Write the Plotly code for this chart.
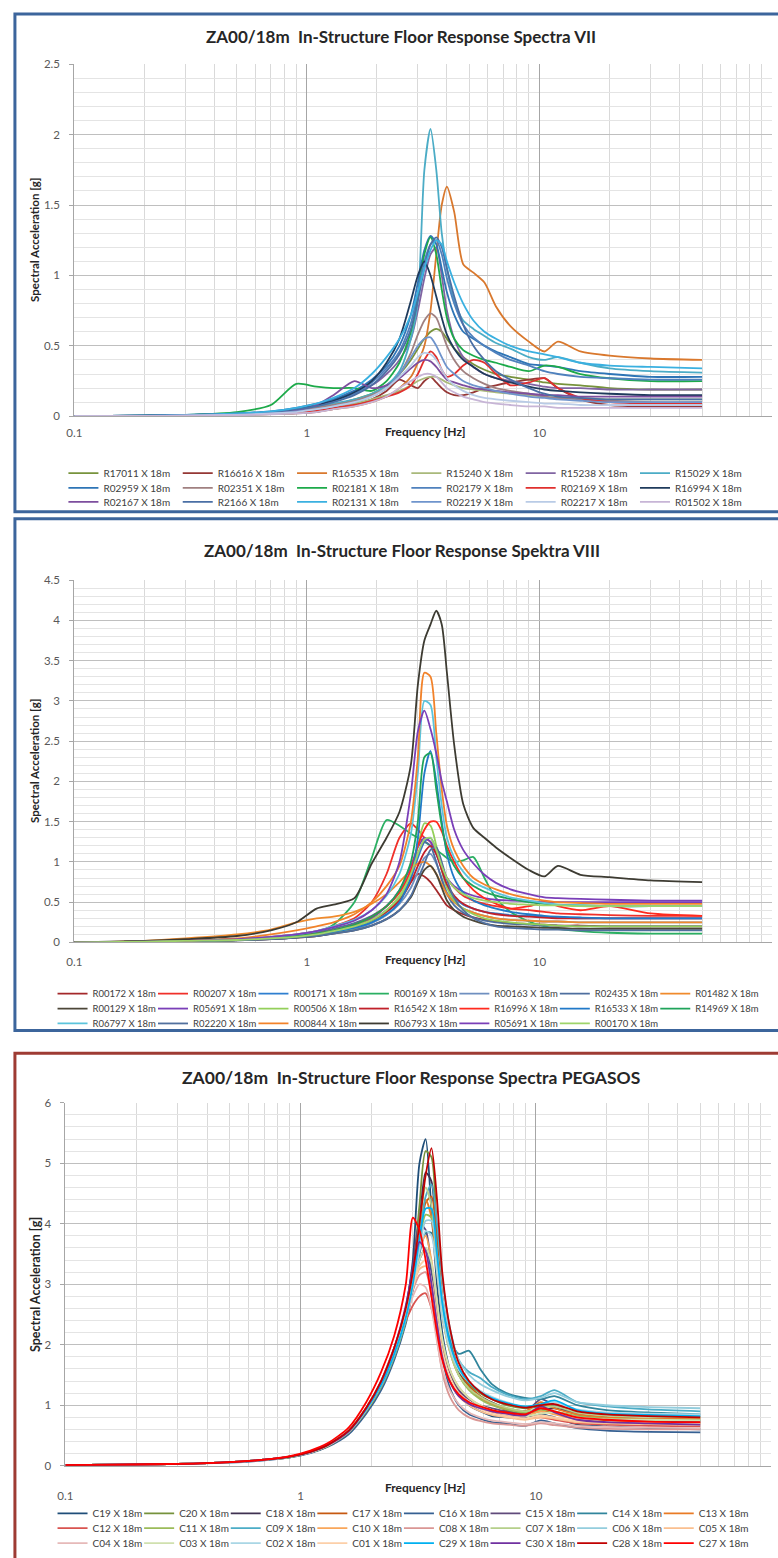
import plotly.graph_objects as go

W, H = 778, 1558

# ---------------- data ----------------
freq = [0.1, 0.2, 0.3, 0.5, 0.7, 0.9, 1.1, 1.3, 1.6, 1.9, 2.2, 2.5, 2.8, 3.0, 3.2, 3.4,
        3.6, 3.8, 4.0, 4.3, 4.7, 5.2, 5.8, 6.5, 7.5, 9.0, 10.5, 12, 15, 20, 30, 50]

# Panel 1 : Spectra VII
p1_R17011 = [0.00, 0.003, 0.007, 0.015, 0.025, 0.04, 0.06, 0.08, 0.12, 0.16, 0.22, 0.30, 0.40, 0.48, 0.55, 0.60, 0.62, 0.60, 0.55, 0.48, 0.42, 0.37, 0.33, 0.30, 0.28, 0.26, 0.24, 0.23, 0.22, 0.20, 0.19, 0.19]
p1_R16616 = [0.00, 0.003, 0.006, 0.010, 0.015, 0.02, 0.03, 0.05, 0.08, 0.12, 0.18, 0.26, 0.22, 0.20, 0.25, 0.28, 0.24, 0.20, 0.17, 0.15, 0.15, 0.17, 0.20, 0.22, 0.24, 0.26, 0.27, 0.20, 0.12, 0.08, 0.07, 0.07]
p1_R16535 = [0.00, 0.003, 0.007, 0.012, 0.02, 0.03, 0.04, 0.05, 0.07, 0.10, 0.14, 0.20, 0.28, 0.38, 0.50, 0.75, 1.15, 1.50, 1.63, 1.45, 1.08, 1.02, 0.95, 0.78, 0.64, 0.53, 0.46, 0.53, 0.46, 0.43, 0.41, 0.40]
p1_R15240 = [0.00, 0.002, 0.005, 0.010, 0.015, 0.025, 0.04, 0.06, 0.09, 0.12, 0.15, 0.18, 0.22, 0.25, 0.27, 0.28, 0.28, 0.26, 0.24, 0.22, 0.20, 0.19, 0.18, 0.17, 0.16, 0.15, 0.14, 0.13, 0.13, 0.12, 0.12, 0.12]
p1_R15238 = [0.00, 0.004, 0.008, 0.02, 0.03, 0.05, 0.08, 0.12, 0.18, 0.22, 0.30, 0.40, 0.55, 0.75, 0.98, 1.15, 1.20, 1.00, 0.75, 0.55, 0.42, 0.35, 0.30, 0.27, 0.25, 0.23, 0.21, 0.20, 0.20, 0.19, 0.19, 0.19]
p1_R15029 = [0.00, 0.005, 0.010, 0.02, 0.03, 0.05, 0.07, 0.09, 0.12, 0.16, 0.22, 0.32, 0.55, 0.82, 1.75, 2.04, 1.75, 1.30, 1.05, 0.82, 0.68, 0.62, 0.57, 0.52, 0.48, 0.42, 0.40, 0.42, 0.38, 0.34, 0.32, 0.31]
p1_R02959 = [0.00, 0.005, 0.010, 0.02, 0.035, 0.06, 0.09, 0.12, 0.18, 0.26, 0.36, 0.50, 0.72, 0.95, 1.18, 1.28, 1.22, 1.05, 0.88, 0.72, 0.60, 0.55, 0.50, 0.46, 0.42, 0.37, 0.36, 0.35, 0.32, 0.30, 0.28, 0.28]
p1_R02351 = [0.00, 0.003, 0.007, 0.015, 0.025, 0.04, 0.06, 0.08, 0.11, 0.15, 0.20, 0.30, 0.45, 0.58, 0.68, 0.73, 0.70, 0.60, 0.50, 0.40, 0.32, 0.27, 0.23, 0.20, 0.18, 0.16, 0.14, 0.13, 0.12, 0.11, 0.10, 0.10]
p1_R02181 = [0.00, 0.005, 0.010, 0.03, 0.08, 0.23, 0.21, 0.20, 0.20, 0.18, 0.25, 0.38, 0.60, 0.85, 1.15, 1.27, 1.15, 0.90, 0.70, 0.55, 0.47, 0.43, 0.40, 0.38, 0.35, 0.32, 0.36, 0.35, 0.30, 0.27, 0.25, 0.25]
p1_R02179 = [0.00, 0.004, 0.008, 0.018, 0.03, 0.05, 0.08, 0.11, 0.16, 0.24, 0.34, 0.46, 0.66, 0.88, 1.10, 1.22, 1.25, 1.15, 0.98, 0.80, 0.65, 0.56, 0.50, 0.45, 0.40, 0.36, 0.32, 0.30, 0.28, 0.27, 0.26, 0.26]
p1_R02169 = [0.00, 0.003, 0.006, 0.012, 0.02, 0.03, 0.04, 0.06, 0.08, 0.11, 0.14, 0.17, 0.22, 0.30, 0.40, 0.46, 0.42, 0.33, 0.28, 0.30, 0.36, 0.40, 0.38, 0.30, 0.22, 0.24, 0.27, 0.20, 0.13, 0.10, 0.09, 0.09]
p1_R16994 = [0.00, 0.004, 0.008, 0.017, 0.03, 0.05, 0.08, 0.11, 0.17, 0.25, 0.38, 0.55, 0.82, 1.00, 1.10, 1.00, 0.85, 0.70, 0.58, 0.48, 0.40, 0.35, 0.30, 0.27, 0.24, 0.21, 0.19, 0.18, 0.17, 0.16, 0.15, 0.15]
p1_R02167 = [0.00, 0.003, 0.006, 0.012, 0.02, 0.04, 0.08, 0.15, 0.25, 0.20, 0.22, 0.27, 0.34, 0.38, 0.40, 0.39, 0.35, 0.30, 0.26, 0.24, 0.22, 0.20, 0.19, 0.18, 0.17, 0.16, 0.15, 0.15, 0.14, 0.14, 0.14, 0.14]
p1_R2166 = [0.00, 0.004, 0.008, 0.018, 0.03, 0.05, 0.07, 0.10, 0.15, 0.22, 0.32, 0.44, 0.62, 0.82, 1.05, 1.22, 1.27, 1.20, 1.05, 0.85, 0.65, 0.50, 0.40, 0.32, 0.26, 0.20, 0.16, 0.14, 0.13, 0.12, 0.12, 0.12]
p1_R02131 = [0.00, 0.004, 0.008, 0.02, 0.035, 0.06, 0.09, 0.13, 0.20, 0.30, 0.42, 0.55, 0.72, 0.88, 1.05, 1.18, 1.25, 1.22, 1.10, 0.95, 0.80, 0.68, 0.60, 0.55, 0.50, 0.46, 0.44, 0.42, 0.38, 0.36, 0.35, 0.34]
p1_R02219 = [0.00, 0.003, 0.006, 0.012, 0.02, 0.035, 0.05, 0.07, 0.10, 0.14, 0.20, 0.30, 0.42, 0.50, 0.55, 0.56, 0.50, 0.42, 0.35, 0.30, 0.25, 0.22, 0.20, 0.18, 0.16, 0.14, 0.13, 0.12, 0.11, 0.10, 0.10, 0.10]
p1_R02217 = [0.00, 0.002, 0.005, 0.010, 0.02, 0.03, 0.05, 0.07, 0.10, 0.14, 0.20, 0.28, 0.36, 0.42, 0.45, 0.44, 0.40, 0.33, 0.27, 0.22, 0.18, 0.15, 0.13, 0.12, 0.11, 0.10, 0.09, 0.09, 0.08, 0.08, 0.08, 0.08]
p1_R01502 = [0.00, 0.002, 0.004, 0.008, 0.013, 0.02, 0.03, 0.05, 0.07, 0.10, 0.14, 0.20, 0.25, 0.28, 0.30, 0.30, 0.28, 0.24, 0.20, 0.17, 0.14, 0.12, 0.10, 0.09, 0.08, 0.07, 0.07, 0.06, 0.06, 0.06, 0.06, 0.06]

# Panel 2 : Spektra VIII
p2_R00172 = [0.00, 0.01, 0.015, 0.03, 0.04, 0.06, 0.08, 0.12, 0.18, 0.26, 0.38, 0.55, 0.75, 0.85, 0.82, 0.75, 0.65, 0.55, 0.46, 0.40, 0.35, 0.31, 0.28, 0.26, 0.24, 0.23, 0.22, 0.21, 0.21, 0.20, 0.20, 0.20]
p2_R00207 = [0.00, 0.01, 0.02, 0.04, 0.07, 0.10, 0.14, 0.20, 0.30, 0.50, 0.85, 1.30, 1.48, 1.40, 1.30, 1.25, 1.10, 0.95, 0.80, 0.68, 0.58, 0.52, 0.48, 0.45, 0.42, 0.40, 0.38, 0.36, 0.35, 0.34, 0.33, 0.33]
p2_R00171 = [0.00, 0.01, 0.02, 0.03, 0.05, 0.07, 0.10, 0.14, 0.20, 0.28, 0.40, 0.55, 0.80, 1.05, 1.25, 1.30, 1.15, 0.90, 0.70, 0.56, 0.47, 0.42, 0.38, 0.36, 0.34, 0.33, 0.32, 0.31, 0.30, 0.30, 0.30, 0.30]
p2_R00169 = [0.00, 0.01, 0.02, 0.04, 0.06, 0.09, 0.13, 0.22, 0.50, 1.05, 1.52, 1.45, 1.35, 1.30, 1.25, 1.20, 1.15, 1.10, 1.05, 1.00, 1.02, 1.06, 0.80, 0.55, 0.38, 0.26, 0.20, 0.17, 0.14, 0.12, 0.11, 0.11]
p2_R00163 = [0.00, 0.01, 0.015, 0.03, 0.04, 0.06, 0.09, 0.12, 0.17, 0.24, 0.34, 0.48, 0.68, 0.88, 1.05, 1.10, 0.98, 0.80, 0.62, 0.50, 0.42, 0.37, 0.33, 0.30, 0.28, 0.27, 0.26, 0.26, 0.25, 0.25, 0.25, 0.25]
p2_R02435 = [0.00, 0.01, 0.02, 0.04, 0.06, 0.09, 0.12, 0.17, 0.24, 0.33, 0.45, 0.62, 0.88, 1.10, 1.25, 1.20, 1.00, 0.78, 0.60, 0.46, 0.37, 0.31, 0.27, 0.25, 0.23, 0.22, 0.21, 0.21, 0.20, 0.20, 0.20, 0.20]
p2_R01482 = [0.00, 0.02, 0.05, 0.10, 0.16, 0.25, 0.30, 0.32, 0.38, 0.48, 0.60, 0.75, 0.90, 0.98, 1.00, 0.95, 0.85, 0.72, 0.60, 0.50, 0.42, 0.37, 0.33, 0.30, 0.28, 0.27, 0.26, 0.26, 0.25, 0.25, 0.25, 0.25]
p2_R00129 = [0.00, 0.01, 0.015, 0.025, 0.04, 0.06, 0.08, 0.11, 0.15, 0.21, 0.29, 0.40, 0.56, 0.75, 0.90, 0.95, 0.85, 0.68, 0.52, 0.40, 0.32, 0.27, 0.23, 0.21, 0.20, 0.19, 0.18, 0.18, 0.17, 0.17, 0.17, 0.17]
p2_R05691a = [0.00, 0.01, 0.02, 0.03, 0.05, 0.07, 0.10, 0.14, 0.20, 0.30, 0.45, 0.65, 0.95, 1.18, 1.30, 1.25, 1.10, 0.92, 0.80, 0.70, 0.63, 0.58, 0.55, 0.53, 0.52, 0.51, 0.50, 0.50, 0.50, 0.50, 0.50, 0.50]
p2_R00506 = [0.00, 0.01, 0.02, 0.03, 0.05, 0.07, 0.10, 0.13, 0.18, 0.26, 0.38, 0.55, 0.85, 1.20, 1.48, 1.45, 1.20, 0.90, 0.68, 0.52, 0.42, 0.35, 0.30, 0.27, 0.25, 0.23, 0.22, 0.21, 0.20, 0.20, 0.20, 0.20]
p2_R16542 = [0.00, 0.01, 0.015, 0.03, 0.05, 0.07, 0.10, 0.14, 0.20, 0.28, 0.38, 0.52, 0.75, 0.95, 1.12, 1.20, 1.10, 0.90, 0.72, 0.58, 0.48, 0.42, 0.38, 0.35, 0.33, 0.32, 0.31, 0.30, 0.30, 0.30, 0.30, 0.30]
p2_R16996 = [0.00, 0.01, 0.02, 0.03, 0.05, 0.08, 0.11, 0.15, 0.22, 0.32, 0.45, 0.62, 0.90, 1.20, 1.40, 1.50, 1.50, 1.38, 1.20, 1.00, 0.80, 0.65, 0.55, 0.48, 0.42, 0.45, 0.50, 0.45, 0.40, 0.45, 0.36, 0.33]
p2_R16533 = [0.00, 0.01, 0.02, 0.03, 0.05, 0.07, 0.10, 0.13, 0.18, 0.25, 0.35, 0.50, 0.80, 1.30, 2.10, 2.38, 2.00, 1.50, 1.10, 0.80, 0.62, 0.52, 0.46, 0.42, 0.38, 0.35, 0.33, 0.32, 0.31, 0.30, 0.30, 0.30]
p2_R14969 = [0.00, 0.01, 0.02, 0.03, 0.05, 0.08, 0.11, 0.15, 0.22, 0.32, 0.45, 0.65, 1.00, 1.50, 2.30, 2.35, 1.90, 1.45, 1.15, 0.95, 0.80, 0.70, 0.63, 0.58, 0.54, 0.50, 0.48, 0.47, 0.46, 0.45, 0.45, 0.45]
p2_R06797 = [0.00, 0.01, 0.02, 0.04, 0.07, 0.10, 0.14, 0.20, 0.28, 0.40, 0.58, 0.85, 1.35, 2.10, 3.00, 2.95, 2.30, 1.70, 1.30, 1.05, 0.88, 0.75, 0.68, 0.62, 0.56, 0.52, 0.49, 0.47, 0.46, 0.45, 0.45, 0.45]
p2_R02220 = [0.00, 0.01, 0.015, 0.025, 0.04, 0.06, 0.08, 0.11, 0.15, 0.21, 0.29, 0.40, 0.58, 0.78, 0.98, 1.15, 1.18, 1.00, 0.78, 0.55, 0.40, 0.30, 0.24, 0.20, 0.18, 0.17, 0.16, 0.16, 0.15, 0.15, 0.15, 0.15]
p2_R00844 = [0.00, 0.01, 0.02, 0.05, 0.10, 0.15, 0.20, 0.25, 0.35, 0.50, 0.70, 0.95, 1.50, 2.30, 3.35, 3.30, 2.60, 1.90, 1.45, 1.15, 0.95, 0.80, 0.72, 0.66, 0.60, 0.55, 0.52, 0.50, 0.49, 0.48, 0.48, 0.48]
p2_R06793 = [0.00, 0.02, 0.04, 0.08, 0.15, 0.25, 0.42, 0.47, 0.55, 0.98, 1.30, 1.62, 2.21, 3.20, 3.75, 3.95, 4.12, 3.95, 3.35, 2.45, 1.72, 1.42, 1.30, 1.18, 1.05, 0.90, 0.82, 0.95, 0.84, 0.81, 0.77, 0.75]
p2_R05691b = [0.00, 0.01, 0.02, 0.04, 0.07, 0.10, 0.14, 0.19, 0.27, 0.40, 0.60, 1.00, 1.85, 2.62, 2.88, 2.65, 2.35, 2.00, 1.75, 1.40, 1.15, 0.98, 0.84, 0.74, 0.66, 0.60, 0.56, 0.55, 0.54, 0.53, 0.52, 0.52]
p2_R00170 = [0.00, 0.01, 0.02, 0.03, 0.05, 0.07, 0.10, 0.14, 0.20, 0.28, 0.40, 0.58, 0.85, 1.10, 1.28, 1.30, 1.15, 0.95, 0.80, 0.68, 0.60, 0.55, 0.52, 0.50, 0.48, 0.47, 0.46, 0.46, 0.45, 0.45, 0.45, 0.45]

# Panel 3 : PEGASOS
p3_C19 = [0.01, 0.02, 0.03, 0.06, 0.10, 0.15, 0.22, 0.32, 0.55, 0.90, 1.30, 1.80, 2.60, 3.40, 5.00, 5.40, 4.20, 3.00, 2.20, 1.60, 1.20, 1.00, 0.90, 0.82, 0.80, 0.78, 0.85, 0.80, 0.68, 0.65, 0.62, 0.60]
p3_C20 = [0.01, 0.02, 0.03, 0.06, 0.10, 0.15, 0.23, 0.34, 0.58, 0.95, 1.35, 1.85, 2.50, 3.20, 4.30, 5.20, 5.10, 3.80, 2.80, 2.10, 1.60, 1.35, 1.20, 1.10, 1.00, 0.95, 0.98, 1.00, 0.90, 0.85, 0.82, 0.80]
p3_C18 = [0.01, 0.02, 0.03, 0.06, 0.10, 0.14, 0.22, 0.32, 0.55, 0.90, 1.30, 1.78, 2.40, 3.00, 4.00, 4.85, 4.70, 3.60, 2.70, 2.00, 1.55, 1.30, 1.15, 1.05, 0.95, 0.90, 0.92, 0.95, 0.85, 0.80, 0.77, 0.75]
p3_C17 = [0.01, 0.02, 0.03, 0.06, 0.10, 0.15, 0.23, 0.33, 0.56, 0.92, 1.32, 1.82, 2.45, 3.00, 3.70, 4.35, 4.45, 3.70, 2.80, 2.10, 1.60, 1.32, 1.15, 1.02, 0.92, 0.86, 0.90, 0.88, 0.80, 0.75, 0.72, 0.70]
p3_C16 = [0.01, 0.02, 0.03, 0.05, 0.09, 0.14, 0.21, 0.31, 0.52, 0.86, 1.25, 1.75, 2.35, 2.90, 3.40, 3.60, 3.20, 2.40, 1.80, 1.30, 1.00, 0.85, 0.78, 0.72, 0.70, 0.66, 0.75, 0.70, 0.62, 0.58, 0.56, 0.55]
p3_C15 = [0.01, 0.02, 0.03, 0.06, 0.10, 0.15, 0.22, 0.33, 0.56, 0.92, 1.35, 1.90, 2.60, 3.30, 4.00, 3.90, 3.30, 2.60, 2.00, 1.55, 1.25, 1.10, 1.00, 0.95, 0.90, 0.88, 1.10, 1.00, 0.85, 0.78, 0.74, 0.72]
p3_C14 = [0.01, 0.02, 0.03, 0.06, 0.10, 0.15, 0.23, 0.34, 0.57, 0.93, 1.33, 1.83, 2.40, 2.95, 3.50, 3.85, 3.85, 3.30, 2.60, 2.10, 1.85, 1.90, 1.60, 1.35, 1.20, 1.12, 1.10, 1.15, 1.00, 0.92, 0.88, 0.85]
p3_C13 = [0.01, 0.02, 0.03, 0.06, 0.10, 0.15, 0.23, 0.34, 0.58, 0.95, 1.38, 1.92, 2.55, 3.15, 3.90, 4.40, 4.10, 3.20, 2.50, 1.90, 1.50, 1.28, 1.12, 1.02, 0.95, 0.90, 1.05, 0.95, 0.85, 0.80, 0.78, 0.78]
p3_C12 = [0.01, 0.02, 0.03, 0.06, 0.10, 0.15, 0.23, 0.34, 0.58, 0.95, 1.40, 1.95, 2.40, 2.65, 2.80, 2.85, 2.60, 2.20, 1.80, 1.45, 1.20, 1.05, 0.95, 0.88, 0.82, 0.78, 0.80, 0.76, 0.70, 0.68, 0.66, 0.65]
p3_C11 = [0.01, 0.02, 0.03, 0.06, 0.10, 0.14, 0.22, 0.32, 0.55, 0.90, 1.30, 1.80, 2.40, 3.00, 3.70, 4.15, 4.10, 3.40, 2.60, 1.95, 1.50, 1.25, 1.10, 1.00, 0.93, 0.88, 0.92, 0.90, 0.82, 0.78, 0.76, 0.75]
p3_C09 = [0.01, 0.02, 0.03, 0.06, 0.10, 0.15, 0.23, 0.33, 0.56, 0.92, 1.32, 1.82, 2.42, 3.00, 3.75, 4.45, 4.65, 4.00, 3.10, 2.30, 1.75, 1.55, 1.45, 1.30, 1.18, 1.10, 1.15, 1.25, 1.05, 0.98, 0.93, 0.90]
p3_C10 = [0.01, 0.02, 0.03, 0.06, 0.10, 0.15, 0.23, 0.34, 0.58, 0.96, 1.40, 1.95, 2.60, 3.10, 3.60, 3.80, 3.40, 2.70, 2.05, 1.60, 1.30, 1.12, 1.00, 0.92, 0.86, 0.82, 0.90, 0.85, 0.76, 0.72, 0.70, 0.70]
p3_C08 = [0.01, 0.02, 0.03, 0.06, 0.10, 0.15, 0.22, 0.33, 0.56, 0.93, 1.36, 1.90, 2.50, 2.90, 3.15, 3.20, 2.80, 2.10, 1.55, 1.15, 0.92, 0.80, 0.74, 0.70, 0.68, 0.66, 0.70, 0.67, 0.63, 0.61, 0.60, 0.60]
p3_C07 = [0.01, 0.02, 0.03, 0.06, 0.10, 0.15, 0.23, 0.34, 0.57, 0.94, 1.36, 1.88, 2.50, 3.10, 4.00, 4.60, 4.30, 3.30, 2.50, 1.90, 1.50, 1.28, 1.14, 1.04, 0.96, 0.90, 0.95, 0.98, 0.88, 0.83, 0.81, 0.80]
p3_C06 = [0.01, 0.02, 0.03, 0.06, 0.10, 0.15, 0.23, 0.34, 0.57, 0.93, 1.34, 1.85, 2.45, 3.00, 3.60, 4.05, 4.05, 3.50, 2.80, 2.20, 1.75, 1.50, 1.35, 1.25, 1.15, 1.08, 1.12, 1.20, 1.05, 1.00, 0.97, 0.95]
p3_C05 = [0.01, 0.02, 0.03, 0.06, 0.10, 0.15, 0.23, 0.34, 0.58, 0.96, 1.40, 1.95, 2.55, 2.95, 3.25, 3.30, 2.95, 2.35, 1.80, 1.40, 1.15, 1.00, 0.90, 0.84, 0.80, 0.76, 0.80, 0.78, 0.72, 0.70, 0.69, 0.68]
p3_C04 = [0.01, 0.02, 0.03, 0.06, 0.10, 0.15, 0.22, 0.33, 0.56, 0.92, 1.35, 1.88, 2.45, 2.80, 3.00, 2.95, 2.60, 2.05, 1.60, 1.25, 1.02, 0.88, 0.80, 0.75, 0.72, 0.69, 0.72, 0.70, 0.66, 0.64, 0.63, 0.62]
p3_C03 = [0.01, 0.02, 0.03, 0.06, 0.10, 0.15, 0.23, 0.34, 0.57, 0.94, 1.36, 1.88, 2.48, 2.95, 3.40, 3.60, 3.35, 2.70, 2.10, 1.60, 1.30, 1.12, 1.00, 0.92, 0.86, 0.82, 0.86, 0.88, 0.80, 0.77, 0.76, 0.75]
p3_C02 = [0.01, 0.02, 0.03, 0.06, 0.10, 0.15, 0.23, 0.34, 0.57, 0.93, 1.34, 1.85, 2.45, 2.98, 3.55, 3.88, 3.80, 3.20, 2.50, 1.95, 1.58, 1.38, 1.24, 1.14, 1.05, 0.98, 1.00, 1.05, 0.93, 0.88, 0.86, 0.85]
p3_C01 = [0.01, 0.02, 0.03, 0.06, 0.10, 0.15, 0.23, 0.34, 0.58, 0.95, 1.38, 1.92, 2.52, 2.95, 3.30, 3.40, 3.05, 2.45, 1.90, 1.48, 1.20, 1.04, 0.94, 0.87, 0.82, 0.78, 0.83, 0.80, 0.74, 0.72, 0.71, 0.70]
p3_C29 = [0.01, 0.02, 0.03, 0.06, 0.10, 0.15, 0.23, 0.34, 0.57, 0.93, 1.34, 1.85, 2.45, 3.00, 3.75, 4.25, 4.25, 3.50, 2.70, 2.05, 1.62, 1.38, 1.22, 1.12, 1.04, 0.98, 1.02, 1.08, 0.92, 0.86, 0.84, 0.82]
p3_C30 = [0.01, 0.02, 0.03, 0.06, 0.10, 0.15, 0.23, 0.34, 0.57, 0.95, 1.40, 1.95, 2.65, 3.25, 3.70, 3.55, 3.00, 2.35, 1.80, 1.40, 1.15, 1.02, 0.95, 0.90, 0.86, 0.83, 0.98, 0.88, 0.76, 0.72, 0.70, 0.68]
p3_C28 = [0.01, 0.02, 0.03, 0.06, 0.10, 0.15, 0.23, 0.34, 0.58, 0.96, 1.40, 1.95, 2.60, 3.20, 4.00, 4.80, 5.25, 4.40, 3.20, 2.30, 1.70, 1.40, 1.22, 1.10, 1.02, 0.96, 1.00, 1.02, 0.90, 0.85, 0.82, 0.80]
p3_C27 = [0.01, 0.02, 0.03, 0.06, 0.10, 0.16, 0.25, 0.37, 0.63, 1.05, 1.55, 2.15, 3.00, 4.10, 3.90, 3.40, 2.80, 2.20, 1.75, 1.40, 1.18, 1.05, 0.98, 0.92, 0.88, 0.85, 0.95, 0.90, 0.80, 0.76, 0.73, 0.72]

# series names & colours (legend order)
p1_series = [
    ("R17011 X 18m", p1_R17011, "#77933C"), ("R16616 X 18m", p1_R16616, "#953735"),
    ("R16535 X 18m", p1_R16535, "#D9782D"), ("R15240 X 18m", p1_R15240, "#A9B97A"),
    ("R15238 X 18m", p1_R15238, "#8064A2"), ("R15029 X 18m", p1_R15029, "#4BACC6"),
    ("R02959 X 18m", p1_R02959, "#2E75B6"), ("R02351 X 18m", p1_R02351, "#A08080"),
    ("R02181 X 18m", p1_R02181, "#1DAA4A"), ("R02179 X 18m", p1_R02179, "#4F81BD"),
    ("R02169 X 18m", p1_R02169, "#E0302E"), ("R16994 X 18m", p1_R16994, "#1F3B5C"),
    ("R02167 X 18m", p1_R02167, "#7D4E9E"), ("R2166 X 18m", p1_R2166, "#4A6FA5"),
    ("R02131 X 18m", p1_R02131, "#3AB0E0"), ("R02219 X 18m", p1_R02219, "#6F94CC"),
    ("R02217 X 18m", p1_R02217, "#B9CBE6"), ("R01502 X 18m", p1_R01502, "#C7B5D6"),
]
p2_series = [
    ("R00172 X 18m", p2_R00172, "#A4282A"), ("R00207 X 18m", p2_R00207, "#F0302A"),
    ("R00171 X 18m", p2_R00171, "#2F7FD0"), ("R00169 X 18m", p2_R00169, "#2AAF62"),
    ("R00163 X 18m", p2_R00163, "#6F8FC0"), ("R02435 X 18m", p2_R02435, "#4E6E9E"),
    ("R01482 X 18m", p2_R01482, "#F08A2C"),
    ("R00129 X 18m", p2_R00129, "#4C4638"), ("R05691 X 18m", p2_R05691a, "#7A3FB8"),
    ("R00506 X 18m", p2_R00506, "#93CF5A"), ("R16542 X 18m", p2_R16542, "#C0202A"),
    ("R16996 X 18m", p2_R16996, "#FF2A1E"), ("R16533 X 18m", p2_R16533, "#2079C8"),
    ("R14969 X 18m", p2_R14969, "#1FA35A"),
    ("R06797 X 18m", p2_R06797, "#5BC4DC"), ("R02220 X 18m", p2_R02220, "#51709E"),
    ("R00844 X 18m", p2_R00844, "#F2822A"), ("R06793 X 18m", p2_R06793, "#3D3B32"),
    ("R05691 X 18m", p2_R05691b, "#7A3FB8"), ("R00170 X 18m", p2_R00170, "#9ED46A"),
]
p3_series = [
    ("C19 X 18m", p3_C19, "#1F4E79"), ("C20 X 18m", p3_C20, "#76923C"),
    ("C18 X 18m", p3_C18, "#3F3151"), ("C17 X 18m", p3_C17, "#C65911"),
    ("C16 X 18m", p3_C16, "#366092"), ("C15 X 18m", p3_C15, "#604A7B"),
    ("C14 X 18m", p3_C14, "#31859C"), ("C13 X 18m", p3_C13, "#E97B25"),
    ("C12 X 18m", p3_C12, "#D9534F"), ("C11 X 18m", p3_C11, "#9BBB59"),
    ("C09 X 18m", p3_C09, "#4BACC6"), ("C10 X 18m", p3_C10, "#F9A65A"),
    ("C08 X 18m", p3_C08, "#DA9694"), ("C07 X 18m", p3_C07, "#B5CF8A"),
    ("C06 X 18m", p3_C06, "#93CDDD"), ("C05 X 18m", p3_C05, "#FABF8F"),
    ("C04 X 18m", p3_C04, "#E6B9B8"), ("C03 X 18m", p3_C03, "#D0E0AE"),
    ("C02 X 18m", p3_C02, "#A9D6E5"), ("C01 X 18m", p3_C01, "#FCCFA8"),
    ("C29 X 18m", p3_C29, "#00B0F0"), ("C30 X 18m", p3_C30, "#7030A0"),
    ("C28 X 18m", p3_C28, "#C00000"), ("C27 X 18m", p3_C27, "#FF0000"),
]

for grp in (p1_series, p2_series, p3_series):
    for nm, vals, _c in grp:
        assert len(vals) == len(freq), (nm, len(vals))

titles = ["ZA00/18m\u00a0\u00a0In-Structure Floor Response Spectra VII",
          "ZA00/18m\u00a0\u00a0In-Structure Floor Response Spektra VIII",
          "ZA00/18m\u00a0\u00a0In-Structure Floor Response Spectra PEGASOS"]
y_ranges = [(0, 2.5, 0.5, 0.1), (0, 4.5, 0.5, 0.1), (0, 6, 1, 0.2)]
x_ticks = [0.1, 1, 10, 100]
x_ticktext = ["0.1", "1", "10", "100"]
x_minor = [0.2, 0.3, 0.4, 0.5, 0.6, 0.7, 0.8, 0.9, 2, 3, 4, 5, 6, 7, 8, 9,
           20, 30, 40, 50, 60, 70, 80, 90]

# ---------------- layout geometry (pixels) ----------------
FONT = "Lato, 'Open Sans', Arial, sans-serif"
px_x = lambda v: v / W
px_y = lambda v: 1 - v / H

panels = [
    dict(x0=67, x1=772, ytop=57.7, ybot=412.7, title_y=30, title_x=397, title_size=17,
         ylab_x=27, xlab_y=428, legends=[470, 485, 499], text_x=104, spacing=115.5,
         per_row=6, border=(7, 509), bcolor="#3C659C", series=p1_series, standoff=6),
    dict(x0=67, x1=772, ytop=578, ybot=943.3, title_y=548, title_x=398, title_size=17,
         ylab_x=27, xlab_y=961, legends=[995, 1010, 1025], text_x=93, spacing=101.5,
         per_row=7, border=(516, 1032), bcolor="#3C659C", series=p2_series, standoff=9),
    dict(x0=58, x1=771, ytop=1105, ybot=1471, title_y=1080, title_x=407, title_size=17.5,
         ylab_x=28, xlab_y=1493, legends=[1519, 1534, 1549], text_x=93, spacing=87.5,
         per_row=8, border=(1055, 1600), bcolor="#9E3B33", series=p3_series, standoff=19),
]
LEG_TEXT_OFFSET = 48  # px between legend box x and its text start

fig = go.Figure()
layout = dict(width=W, height=H, margin=dict(l=0, r=0, t=0, b=0),
              paper_bgcolor="white", plot_bgcolor="white", showlegend=True,
              annotations=[], shapes=[])

legend_idx = 0
for i, p in enumerate(panels):
    ax = "" if i == 0 else str(i + 1)
    y0, y1, dt, mdt = y_ranges[i]
    layout["xaxis" + ax] = dict(
        type="log", range=[-1, 2], domain=[px_x(p["x0"]), px_x(p["x1"])],
        anchor="y" + ax, tickvals=x_ticks, ticktext=x_ticktext,
        showgrid=True, gridcolor="#A6A6A6", gridwidth=1,
        minor=dict(tickvals=x_minor, showgrid=True, gridcolor="#D9D9D9", gridwidth=1, ticks=""),
        showline=True, linecolor="#A6A6A6", ticks="", zeroline=False,
        ticklabelstandoff=p["standoff"],
        tickfont=dict(family=FONT, size=11.5, color="#595959"), fixedrange=True)
    layout["yaxis" + ax] = dict(
        range=[y0, y1], domain=[px_y(p["ybot"]), px_y(p["ytop"])], anchor="x" + ax,
        tick0=0, dtick=dt, showgrid=True, gridcolor="#BFBFBF", gridwidth=1,
        minor=dict(dtick=mdt, showgrid=True, gridcolor="#E4E4E4", gridwidth=1, ticks=""),
        showline=True, linecolor="#A6A6A6", ticks="outside", ticklen=4,
        tickcolor="#A6A6A6", zeroline=False, ticklabelstandoff=7,
        tickfont=dict(family=FONT, size=11.5, color="#595959"), fixedrange=True)

    layout["annotations"].append(dict(
        text="<b>%s</b>" % titles[i], xref="paper", yref="paper",
        x=px_x(p["title_x"]), y=px_y(p["title_y"]), xanchor="center", yanchor="middle",
        showarrow=False, font=dict(family=FONT, size=p["title_size"], color="#262626")))
    layout["annotations"].append(dict(
        text="<b>Spectral Acceleration [g]</b>", xref="paper", yref="paper",
        x=px_x(p["ylab_x"]), y=px_y((p["ytop"] + p["ybot"]) / 2), textangle=-90,
        xanchor="center", yanchor="middle", showarrow=False,
        font=dict(family=FONT, size=11.5 if i < 2 else 12.5, color="#262626")))
    layout["annotations"].append(dict(
        text="<b>Frequency [Hz]</b>", xref="paper", yref="paper",
        x=px_x(421), y=px_y(p["xlab_y"]), xanchor="center", yanchor="middle",
        showarrow=False, font=dict(family=FONT, size=12, color="#262626")))

    layout["shapes"].append(dict(
        type="rect", xref="paper", yref="paper", x0=px_x(7), x1=px_x(790),
        y0=px_y(p["border"][1]), y1=px_y(p["border"][0]),
        line=dict(color=p["bcolor"], width=3), fillcolor="rgba(0,0,0,0)", layer="above"))

    # one legend box per entry, laid out on a grid of rows / columns
    for k, (nm, vals, col) in enumerate(p["series"]):
        legend_idx += 1
        lname = "legend" if legend_idx == 1 else "legend%d" % legend_idx
        r, c = divmod(k, p["per_row"])
        layout[lname] = dict(
            orientation="h", x=px_x(p["text_x"] + c * p["spacing"] - LEG_TEXT_OFFSET),
            xanchor="left", y=px_y(p["legends"][r]), yanchor="middle",
            bgcolor="rgba(0,0,0,0)", borderwidth=0,
            font=dict(family=FONT, size=10 if i != 1 else 9.5, color="#404040"),
            itemclick=False, itemdoubleclick=False)
        fig.add_trace(go.Scatter(
            x=freq, y=vals, name=nm, mode="lines",
            line=dict(color=col, width=1.8, shape="spline", smoothing=0.7),
            xaxis="x" + ax, yaxis="y" + ax, legend=lname, hoverinfo="skip"))

fig.update_layout(**layout)
fig.write_html("out.html", config={"displayModeBar": False},
               post_script="document.body.style.margin='0px';document.body.style.overflow='hidden';")
